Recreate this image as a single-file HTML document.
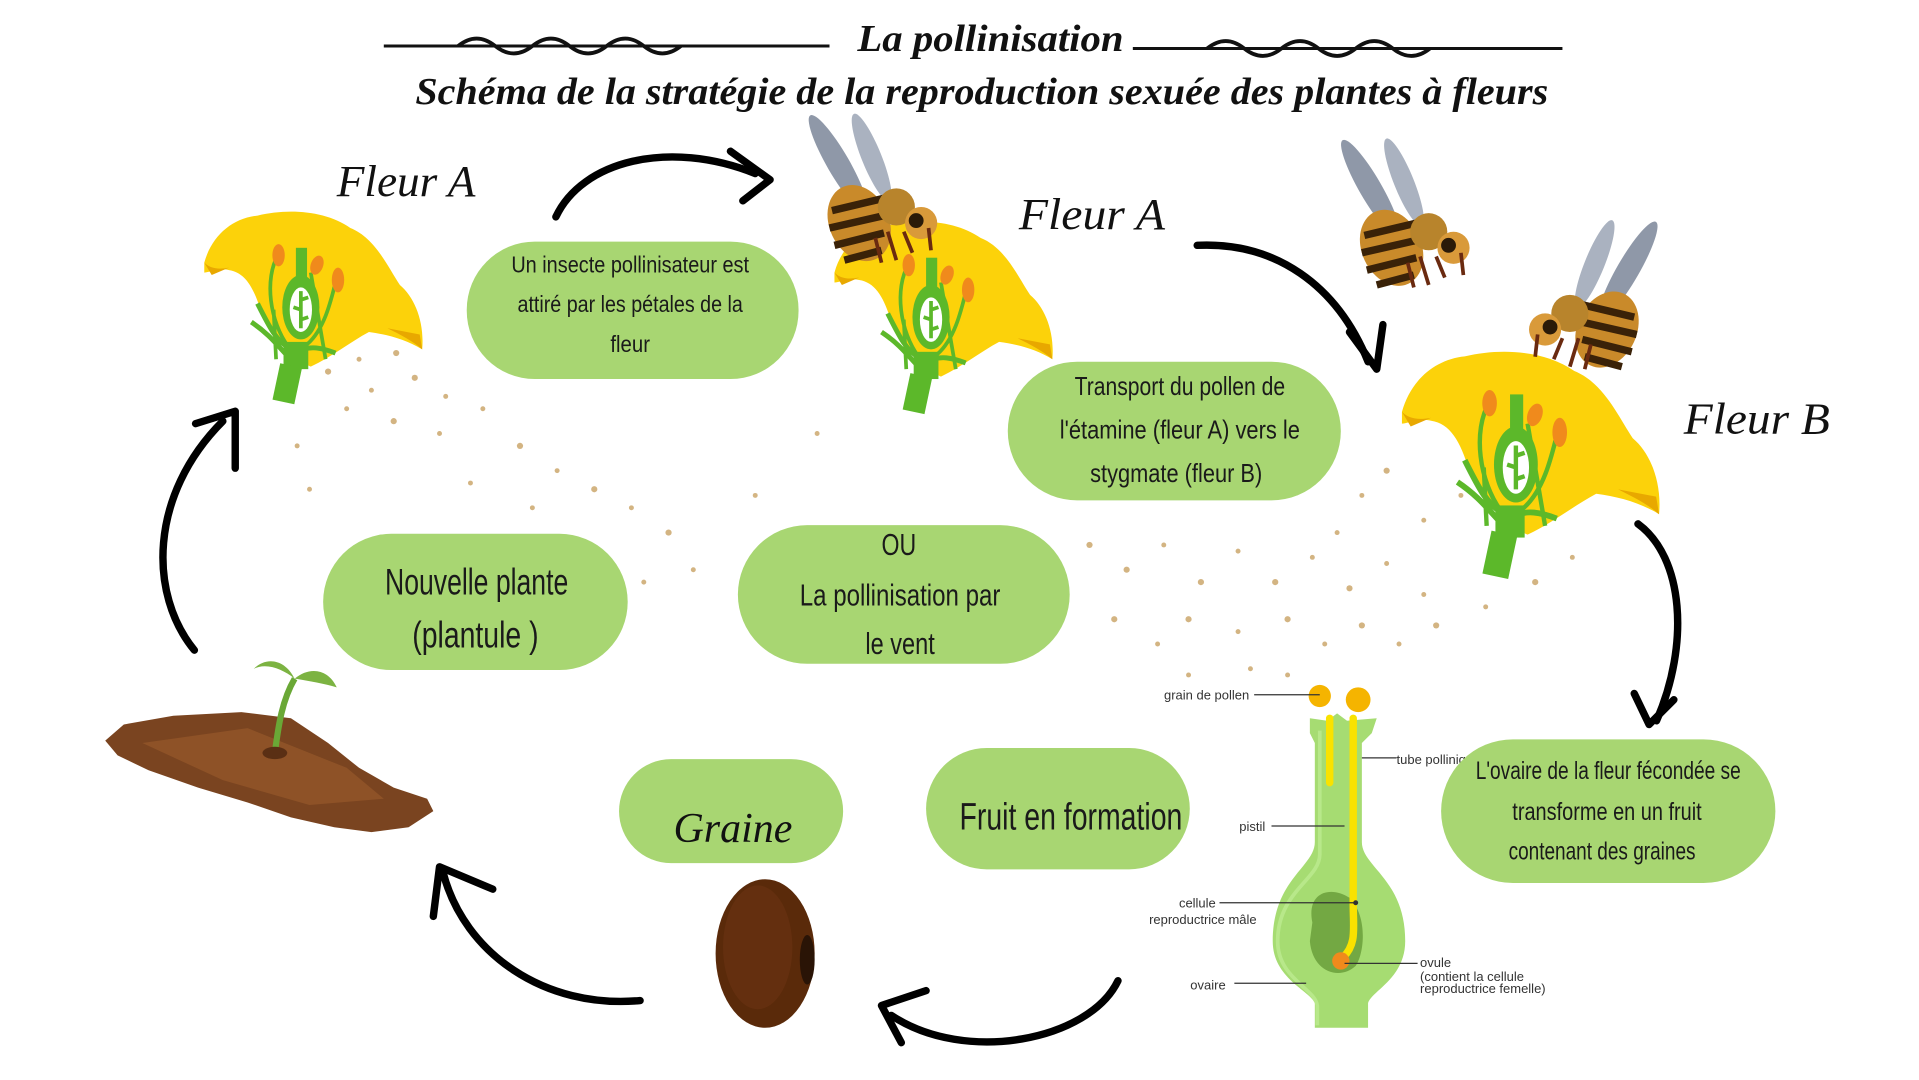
<!DOCTYPE html>
<html><head><meta charset="utf-8"><style>
html,body{margin:0;padding:0;background:#fff;}
svg{display:block;}
.box{fill:#a8d672;}
.t{font-family:"Liberation Sans Narrow","Liberation Sans",sans-serif;fill:#1a1a1a;text-anchor:middle;}
.lab{font-family:"Liberation Sans",sans-serif;font-size:10.5px;fill:#333;}
.scr{font-family:"Liberation Serif",serif;font-style:italic;fill:#111;}
.arr{fill:none;stroke:#000;stroke-width:6;stroke-linecap:round;}
.ah{fill:none;stroke:#000;stroke-width:6;stroke-linecap:round;stroke-linejoin:round;}
</style></head><body>
<svg width="1919" height="1080" viewBox="0 0 1550 872" xmlns="http://www.w3.org/2000/svg">
<defs>
<g id="flower">
  <path d="M2,42 C8,20 25,6 45,4 C70,-2 100,0 120,14 C140,22 150,45 160,60 C172,70 180,90 178,112 C165,104 150,100 135,98 C120,106 105,118 88,126 C70,118 55,100 48,82 C42,62 35,50 22,48 C14,46 6,50 2,50 Z" fill="#fcd20a"/>
  <path d="M150,95 C160,100 170,105 178,112 L176,100 Z" fill="#e8a800"/>
  <path d="M2,42 C6,46 12,48 22,46 L8,52 Z" fill="#e8a800"/>
  <path d="M60,120 L58,80 M100,120 L88,50 M70,110 C55,90 50,55 62,35 M85,108 C100,95 105,70 110,50" stroke="#5cb82a" stroke-width="3" fill="none"/>
  <path d="M45,75 C55,95 60,105 72,112 M108,115 C95,110 88,110 82,112 M40,90 C55,100 62,110 70,118" stroke="#5cb82a" stroke-width="4" fill="none"/>
  <ellipse cx="80" cy="78" rx="15" ry="26" fill="#5cb82a"/>
  <ellipse cx="80" cy="80" rx="9" ry="18" fill="#fff"/>
  <path d="M80,65 L80,95 M80,72 L86,70 M80,80 L74,78 M80,88 L86,86" stroke="#5cb82a" stroke-width="3"/>
  <rect x="76" y="30" width="9" height="30" fill="#5cb82a"/>
  <rect x="66" y="106" width="20" height="22" fill="#5cb82a"/>
  <rect x="60" y="125" width="18" height="30" fill="#5cb82a" transform="rotate(12 70 140)"/>
  <ellipse cx="62" cy="36" rx="5" ry="9" fill="#f08a1c"/>
  <ellipse cx="93" cy="44" rx="5" ry="8" fill="#f08a1c" transform="rotate(20 93 44)"/>
  <ellipse cx="110" cy="56" rx="5" ry="10" fill="#f08a1c"/>
</g>
<g id="bee">
  <ellipse cx="25" cy="40" rx="9" ry="45" fill="#8f98a8" transform="rotate(-30 25 40)"/>
  <ellipse cx="52" cy="35" rx="8" ry="38" fill="#aab2c0" transform="rotate(-22 52 35)"/>
  <ellipse cx="42" cy="88" rx="24" ry="32" fill="#c98a2a" transform="rotate(-25 42 88)"/>
  <path d="M20,78 L62,68 M18,92 L62,82 M22,106 L62,96 M30,118 L60,110" stroke="#3a2208" stroke-width="6"/>
  <circle cx="72" cy="75" r="15" fill="#b8842c"/>
  <circle cx="92" cy="88" r="13" fill="#d99a3a"/>
  <circle cx="88" cy="86" r="6" fill="#2a1a08"/>
  <path d="M55,100 L60,120 M65,95 L72,118 M78,95 L85,112 M98,92 L100,110" stroke="#6a2a10" stroke-width="3" fill="none"/>
</g>
</defs>

<!-- pollen dots -->
<g fill="#c9a264" opacity="0.8">
<circle cx="265" cy="300" r="2.5"/><circle cx="290" cy="290" r="2"/><circle cx="320" cy="285" r="2.5"/><circle cx="300" cy="315" r="2"/><circle cx="335" cy="305" r="2.5"/><circle cx="360" cy="320" r="2"/><circle cx="280" cy="330" r="2"/><circle cx="318" cy="340" r="2.5"/><circle cx="355" cy="350" r="2"/><circle cx="390" cy="330" r="2"/><circle cx="420" cy="360" r="2.5"/><circle cx="450" cy="380" r="2"/><circle cx="480" cy="395" r="2.5"/><circle cx="510" cy="410" r="2"/><circle cx="540" cy="430" r="2.5"/><circle cx="470" cy="440" r="2"/><circle cx="560" cy="460" r="2"/><circle cx="520" cy="470" r="2"/><circle cx="240" cy="360" r="2"/><circle cx="250" cy="395" r="2"/><circle cx="380" cy="390" r="2"/><circle cx="430" cy="410" r="2"/><circle cx="610" cy="400" r="2"/><circle cx="660" cy="350" r="2"/>
<circle cx="880" cy="440" r="2.5"/><circle cx="910" cy="460" r="2.5"/><circle cx="940" cy="440" r="2"/><circle cx="970" cy="470" r="2.5"/><circle cx="1000" cy="445" r="2"/><circle cx="1030" cy="470" r="2.5"/><circle cx="1060" cy="450" r="2"/><circle cx="1090" cy="475" r="2.5"/><circle cx="1120" cy="455" r="2"/><circle cx="1150" cy="480" r="2"/><circle cx="900" cy="500" r="2.5"/><circle cx="935" cy="520" r="2"/><circle cx="960" cy="500" r="2.5"/><circle cx="1000" cy="510" r="2"/><circle cx="1040" cy="500" r="2.5"/><circle cx="1070" cy="520" r="2"/><circle cx="1100" cy="505" r="2.5"/><circle cx="1130" cy="520" r="2"/><circle cx="1160" cy="505" r="2.5"/><circle cx="1200" cy="490" r="2"/><circle cx="1240" cy="470" r="2.5"/><circle cx="1270" cy="450" r="2"/><circle cx="1100" cy="400" r="2"/><circle cx="1120" cy="380" r="2.5"/><circle cx="1150" cy="420" r="2"/><circle cx="1180" cy="400" r="2"/><circle cx="1080" cy="430" r="2"/><circle cx="1010" cy="540" r="2"/><circle cx="960" cy="545" r="2"/><circle cx="1040" cy="545" r="2"/>
</g>

<!-- title -->
<g stroke="#111" stroke-width="2.5" fill="none">
<path d="M310,37 L670,37 M915,39 L1262,39"/>
<path d="M370,37 c10,-8 20,-8 30,0 c10,8 20,8 30,0 c10,-8 20,-8 30,0 c10,8 20,8 30,0 c10,-8 20,-8 30,0 c10,8 20,8 30,0" stroke-width="3"/>
<path d="M975,39 c10,-8 20,-8 30,0 c10,8 20,8 30,0 c10,-8 20,-8 30,0 c10,8 20,8 30,0 c10,-8 20,-8 30,0 c10,8 20,8 30,0" stroke-width="3"/>
</g>
<text x="800" y="41" class="scr" font-weight="bold" font-size="31" text-anchor="middle" textLength="215" lengthAdjust="spacingAndGlyphs">La pollinisation</text>
<text x="793" y="84" class="scr" font-weight="bold" font-size="31" text-anchor="middle" textLength="915" lengthAdjust="spacingAndGlyphs">Schéma de la stratégie de la reproduction sexuée des plantes à fleurs</text>

<!-- flowers and bees -->
<use href="#flower" x="163" y="170"/>
<use href="#flower" x="672" y="178"/>
<use href="#flower" transform="translate(1130,283) scale(1.18)"/>
<use href="#bee" x="652" y="92"/>
<use href="#bee" x="1082" y="112"/>
<use href="#bee" transform="translate(1340,178) scale(-1,1)"/>

<!-- Fleur labels -->
<text x="272" y="158" class="scr" font-size="36" textLength="112" lengthAdjust="spacingAndGlyphs">Fleur A</text>
<text x="823" y="185" class="scr" font-size="36" textLength="118" lengthAdjust="spacingAndGlyphs">Fleur A</text>
<text x="1360" y="350" class="scr" font-size="36" textLength="118" lengthAdjust="spacingAndGlyphs">Fleur B</text>

<!-- boxes -->
<rect class="box" x="377" y="195" width="268" height="111" rx="55"/>
<text class="t" font-size="19" x="509" y="220" textLength="192" lengthAdjust="spacingAndGlyphs">Un insecte pollinisateur est</text>
<text class="t" font-size="19" x="509" y="252" textLength="182" lengthAdjust="spacingAndGlyphs">attiré par les pétales de la</text>
<text class="t" font-size="19" x="509" y="284" textLength="32" lengthAdjust="spacingAndGlyphs">fleur</text>

<rect class="box" x="814" y="292" width="269" height="112" rx="56"/>
<text class="t" font-size="21" x="953" y="319" textLength="170" lengthAdjust="spacingAndGlyphs">Transport du pollen de</text>
<text class="t" font-size="21" x="953" y="354" textLength="194" lengthAdjust="spacingAndGlyphs">l'étamine (fleur A) vers le</text>
<text class="t" font-size="21" x="950" y="389" textLength="139" lengthAdjust="spacingAndGlyphs">stygmate (fleur B)</text>

<rect class="box" x="261" y="431" width="246" height="110" rx="55"/>
<text class="t" font-size="30" x="385" y="480" textLength="148" lengthAdjust="spacingAndGlyphs">Nouvelle plante</text>
<text class="t" font-size="30" x="384" y="523" textLength="102" lengthAdjust="spacingAndGlyphs">(plantule )</text>

<rect class="box" x="596" y="424" width="268" height="112" rx="56"/>
<text class="t" font-size="25" x="726" y="448" textLength="28" lengthAdjust="spacingAndGlyphs">OU</text>
<text class="t" font-size="25" x="727" y="489" textLength="162" lengthAdjust="spacingAndGlyphs">La pollinisation par</text>
<text class="t" font-size="25" x="727" y="528" textLength="56" lengthAdjust="spacingAndGlyphs">le vent</text>

<rect class="box" x="500" y="613" width="181" height="84" rx="42"/>
<text class="scr" font-size="34" x="592" y="680" text-anchor="middle" textLength="96" lengthAdjust="spacingAndGlyphs">Graine</text>

<rect class="box" x="748" y="604" width="213" height="98" rx="49"/>
<text class="t" font-size="31" x="865" y="670" textLength="180" lengthAdjust="spacingAndGlyphs">Fruit en formation</text>

<!-- pistil diagram -->
<path d="M1058,580 L1072,582 L1080,576 L1088,582 L1112,580 L1108,592 L1100,600 L1100,680 C1100,700 1135,710 1135,760 C1135,790 1108,800 1105,810 L1105,830 L1062,830 L1062,810 C1058,800 1028,790 1028,760 C1028,710 1062,700 1062,680 L1062,600 L1058,592 Z" fill="#a6dc72"/>
<path d="M1066,590 L1066,690 C1066,710 1032,720 1032,760 C1032,790 1062,798 1064,812 L1064,828" fill="none" stroke="#b8e88a" stroke-width="3"/>
<path d="M1060,745 C1055,720 1075,715 1090,725 C1105,740 1102,770 1095,780 C1082,792 1060,785 1058,760 Z" fill="#73a843"/>
<path d="M1074,580 L1074,632" stroke="#f9e200" stroke-width="6" stroke-linecap="round"/>
<path d="M1093,580 L1093,730 C1093,750 1096,762 1085,773" stroke="#f9e200" stroke-width="6" fill="none" stroke-linecap="round"/>
<circle cx="1066" cy="562" r="9" fill="#f5b400"/>
<circle cx="1097" cy="565" r="10" fill="#f5b400"/>
<circle cx="1083" cy="776" r="7" fill="#f08a1c"/>
<circle cx="1095" cy="729" r="2" fill="#333"/>
<g stroke="#333" stroke-width="1">
<path d="M1013,561 L1066,561 M1100,612 L1128,612 M1027,667 L1086,667 M985,729 L1095,729 M997,794 L1055,794 M1086,778 L1145,778"/>
</g>
<text class="lab" x="1009" y="565" text-anchor="end">grain de pollen</text>
<text class="lab" x="1128" y="617">tube pollinique</text>
<text class="lab" x="1022" y="671" text-anchor="end">pistil</text>
<text class="lab" x="982" y="733" text-anchor="end">cellule</text>
<text class="lab" x="1015" y="746" text-anchor="end">reproductrice mâle</text>
<text class="lab" x="990" y="799" text-anchor="end">ovaire</text>
<text class="lab" x="1147" y="781">ovule</text>
<text class="lab" x="1147" y="792" font-size="8.5">(contient la cellule</text>
<text class="lab" x="1147" y="802" font-size="8.5">reproductrice femelle)</text>

<rect class="box" x="1164" y="597" width="270" height="116" rx="58"/>
<text class="t" font-size="20" x="1299" y="629" textLength="214" lengthAdjust="spacingAndGlyphs">L'ovaire de la fleur fécondée se</text>
<text class="t" font-size="20" x="1298" y="662" textLength="153" lengthAdjust="spacingAndGlyphs">transforme en un fruit</text>
<text class="t" font-size="20" x="1294" y="694" textLength="151" lengthAdjust="spacingAndGlyphs">contenant des graines</text>

<!-- soil & seedling -->
<path d="M85,598 L100,585 L140,578 L195,575 L235,580 L265,600 L290,620 L318,636 L345,645 L350,655 L330,668 L300,672 L270,668 L235,660 L200,648 L160,636 L120,622 L95,610 Z" fill="#7a4420"/>
<path d="M115,600 L200,588 L280,620 L310,645 L250,650 L180,630 Z" fill="#8e5227"/>
<path d="M222,608 C225,585 228,565 238,548" stroke="#6aa836" stroke-width="5" fill="none"/>
<path d="M238,548 C228,540 215,535 205,540 C215,530 230,532 238,548 Z" fill="#7cb342"/>
<path d="M238,548 C250,538 265,540 272,555 C262,552 250,550 238,548 Z" fill="#7cb342"/>
<ellipse cx="222" cy="608" rx="10" ry="5" fill="#5a2f14"/>

<!-- seed -->
<ellipse cx="618" cy="770" rx="40" ry="60" fill="#5a2a0a"/>
<ellipse cx="612" cy="765" rx="28" ry="50" fill="#6b3412" opacity="0.6"/>
<ellipse cx="652" cy="775" rx="6" ry="20" fill="#2a1406"/>

<!-- arrows -->
<path class="arr" d="M449,175 C470,130 540,112 610,140"/>
<path class="ah" d="M590,122 L622,145 L600,162"/>
<path class="arr" d="M967,198 C1030,195 1080,230 1105,292"/>
<path class="ah" d="M1090,268 L1112,298 L1117,262"/>
<path class="arr" d="M1323,423 C1360,450 1365,520 1338,582"/>
<path class="ah" d="M1320,560 L1332,585 L1352,565"/>
<path class="arr" d="M903,792 C880,840 780,860 720,820"/>
<path class="ah" d="M748,800 L712,812 L728,842"/>
<path class="arr" d="M517,808 C440,815 375,770 358,705"/>
<path class="ah" d="M350,740 L355,700 L398,718"/>
<path class="arr" d="M157,525 C120,480 120,400 180,340"/>
<path class="ah" d="M158,342 L190,332 L190,378"/>
</svg>
</body></html>
